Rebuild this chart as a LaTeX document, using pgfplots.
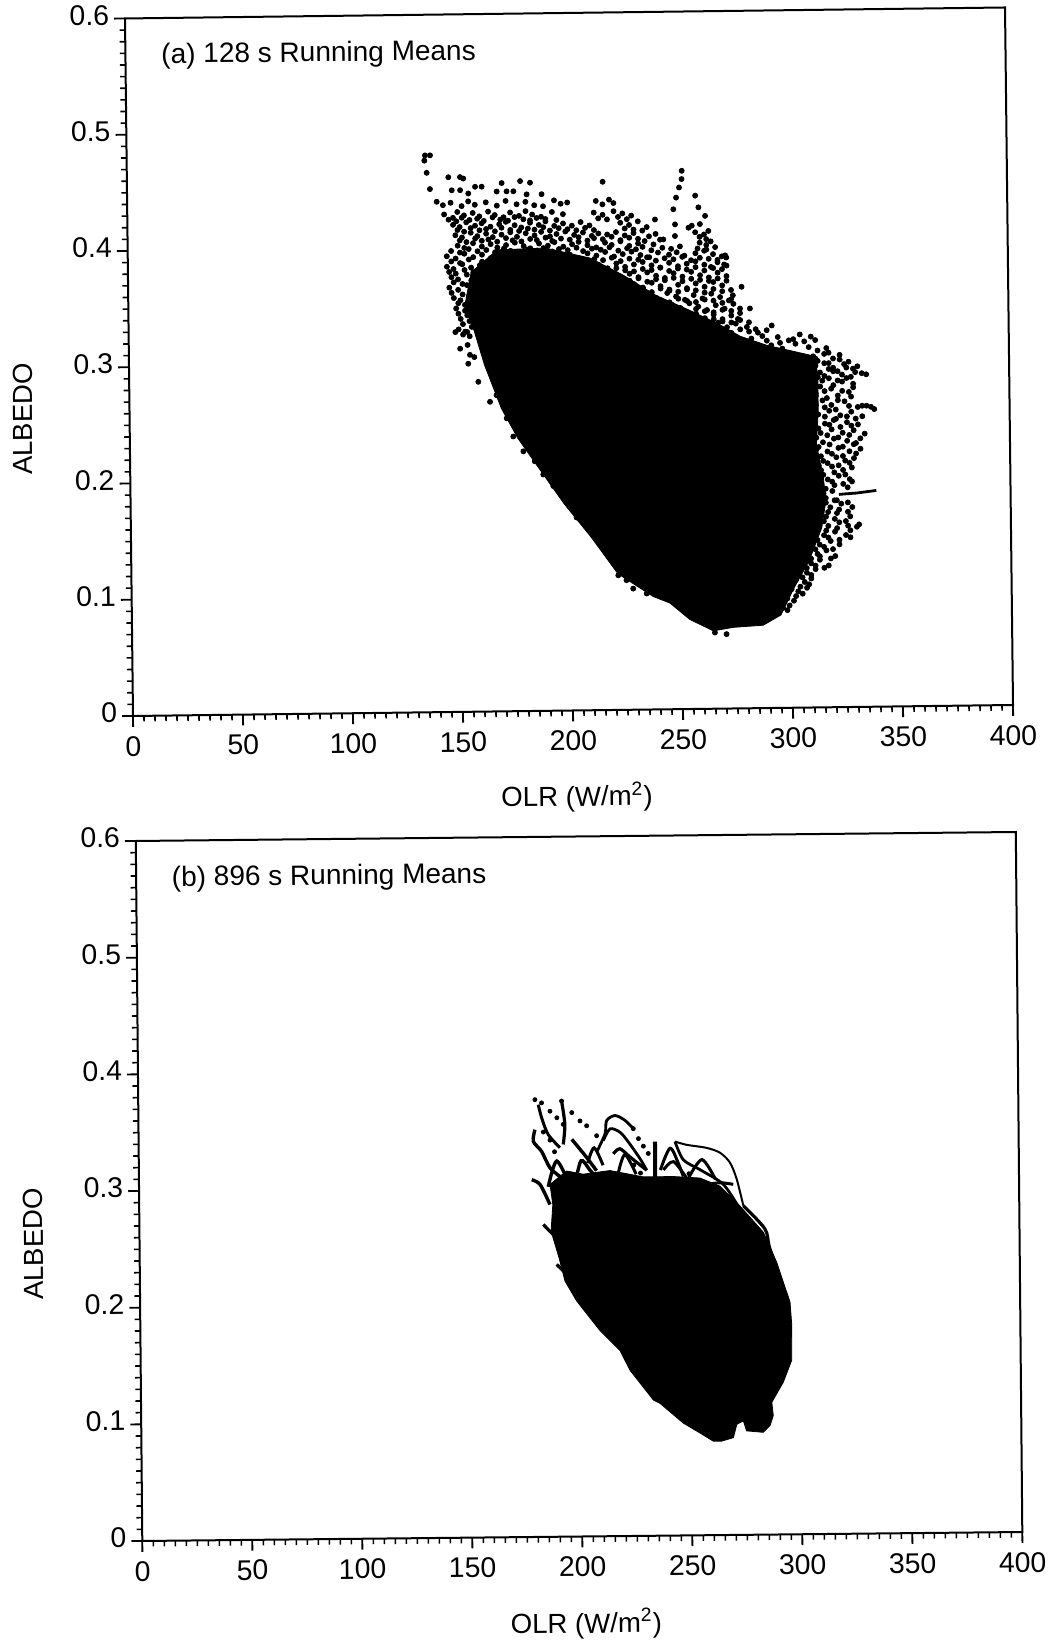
\documentclass[border=0pt]{standalone}
\usepackage{fontspec}
\setmainfont{Liberation Sans}
\usepackage{pgfplots}
\pgfplotsset{compat=1.18}
\pgfplotsset{panel/.style={
  anchor=origin, xmin=0, xmax=400, ymin=0, ymax=0.6,
  axis line style={line width=1pt}, clip=false,
  tick align=outside, xtick pos=lower, ytick pos=lower,
  xtick={0,50,100,150,200,250,300,350,400},
  ytick={0,0.1,0.2,0.3,0.4,0.5,0.6},
  yticklabels={0,0.1,0.2,0.3,0.4,0.5,0.6},
  xticklabels={0,50,100,150,200,250,300,350,400},
  minor x tick num=9, minor y tick num=9,
  major tick length=5.4pt, minor tick length=2.8pt,
  major tick style={line width=0.9pt,black},
  minor tick style={line width=0.8pt,black},
  tick label style={font=\fontsize{14.2}{15}\selectfont,rotate=0.6},
  xticklabel style={yshift=-1.2pt},
  yticklabel style={xshift=1pt,yshift=1.8pt},
  /pgf/number format/assume math mode=true,
  label style={font=\fontsize{13.8}{15}\selectfont},
}}
\begin{document}
\begin{tikzpicture}
\path[use as bounding box] (0,0) rectangle (524.5pt,822pt);
% ---------- panel (a)
\begin{axis}[panel, at={(66.5pt,464pt)},
  x={(1.1pt,0.01375pt)}, y={(-6.667pt,581.25pt)},
  xlabel={OLR (W/m\textsuperscript{2})},
  xlabel style={at={(axis cs:200,0)},anchor=center,xshift=2pt,yshift=-43.3pt,rotate=0.6},
  ylabel={ALBEDO},
  ylabel style={at={(axis cs:0,0.25)},anchor=center,xshift=3.2pt,yshift=53.4pt,rotate=0.6},
]
\addplot[black,fill=black,line width=0.4pt] coordinates {
(153,.35)(156,.378)(168,.397)(190,.398)(210,.389)(225,.374)(240,.356)(255,.343)(268,.331)
(278,.32)(290,.312)(312,.302)(313,.2837)(313,.2549)(312,.2262)(315,.1976)(316,.1775)
(314,.1545)(308,.1258)(301,.1028)(295,.0799)(286.9,.0713)(273.3,.0698)(264.2,.067)(253.6,.077)
(244.6,.0914)(237.1,.0971)(221.1,.1172)(209.2,.1488)(197.2,.1775)(186.7,.2062)(176.3,.2349)(169,.2607)
(161.6,.298)(157.2,.3267)} -- cycle;
\addplot[black,line width=1.4pt] coordinates {(322,.183)(330,.184)(339,.186)};
\addplot[only marks,mark=*,mark size=1.25pt,black] coordinates {
(135.6,.479)(137.9,.479)(135.3,.4745)(136.3,.464)(137.7,.450)
(146.1,.460)(151.4,.460)(152.9,.4587)(147.6,.4487)(151.4,.4487)(155.1,.4458)(158.2,.4515)(161.2,.4515)
(170.3,.4544)(168,.4472)(172.5,.4472)(178.7,.4559)(183.2,.4544)(175.6,.4472)(181.6,.4444)(188.4,.4444)
(216.2,.4544)(252.2,.463)(252.1,.4559)(250.9,.4487)(249.5,.440)(248.2,.430)(248.9,.417)(248.8,.407)(249.5,.393)
(258.2,.4415)(259.6,.4314)(262.6,.424)(256.5,.4157)(260.2,.417)(239.8,.4214)(243.5,.4042)
(278.8,.3626)(278,.3439)(282.5,.3439)(292.3,.329)(272.1,.381)(271.5,.3898)(274.8,.3554)
(140.7,.439)(143.5,.436)(147,.438)(152,.435)(155,.439)(158,.436)(163,.438)(168,.435)(172,.439)(177,.436)(181,.438)(185,.435)(189,.434)
(194,.439)(197,.436)(200,.437)(213,.438)(216,.435)(219,.439)(221,.436)
(144,.428)(148,.425)(150,.430)(153,.427)(157,.429)(160,.426)(164,.430)(167,.427)(171,.425)(174,.429)(178,.426)(181,.430)(184,.427)(188,.425)
(193,.429)(198,.427)(212,.428)(216,.426)(221,.429)(225,.427)(229,.425)
(148,.419)(151,.417)(154,.421)(158,.418)(161,.420)(165,.417)(169,.419)(172,.421)(176,.418)(179,.416)(183,.420)(187,.418)(190,.421)(194,.417)(198,.419)(202,.417)(206,.420)(210,.417)
(224,.419)(228,.417)(232,.420)
(149,.410)(152,.408)(156,.412)(159,.409)(163,.411)(166,.408)(170,.410)(174,.412)(177,.408)(181,.411)(185,.409)(188,.412)(192,.408)(195,.410)(199,.412)(203,.409)(207,.411)(211,.408)(214,.410)(218,.409)
(222,.411)(226,.408)(230,.410)(234,.412)(240,.409)(258,.410)(262,.408)(264,.411)
(150,.401)(153,.399)(157,.403)(161,.400)(165,.402)(168,.399)(172,.401)(176,.403)(180,.400)(183,.398)(187,.402)(191,.400)(194,.403)(198,.399)(202,.401)(205,.403)(209,.400)(213,.398)(217,.402)(220,.400)(224,.403)(228,.399)(232,.401)(235,.403)(239,.400)
(260,.401)(263,.399)(265,.402)
(145,.392)(149,.390)(153,.394)(157,.391)(161,.393)(165,.390)(169,.392)(173,.394)(177,.391)(181,.389)(185,.393)(189,.391)(193,.394)(197,.390)(201,.392)(205,.389)(209,.393)(213,.391)(217,.394)(221,.390)(225,.392)(229,.394)(233,.391)(237,.389)(241,.393)(246,.391)(253,.390)(258,.392)(262,.394)(266,.391)(270,.389)
(145,.383)(148,.381)(152,.385)(156,.382)(160,.384)(190,.381)(195,.383)(200,.380)(205,.384)(210,.381)(214,.383)(218,.380)(222,.384)(226,.381)(230,.383)(234,.385)(238,.382)(242,.380)(246,.384)(250,.381)(254,.383)(258,.385)(262,.382)(265,.380)(268,.384)(271,.382)
(147,.374)(150,.372)(154,.376)(158,.373)(163,.375)(208,.374)(212,.372)(216,.376)(220,.373)(224,.371)(228,.375)(232,.372)(236,.376)(240,.373)(244,.371)(248,.375)(252,.372)(256,.376)(260,.373)(264,.371)(268,.375)(272,.372)
(146,.365)(150,.363)(154,.367)(222,.365)(226,.362)(230,.366)(234,.363)(238,.367)(242,.364)(246,.361)(250,.365)(254,.362)(258,.366)(262,.363)(266,.367)(270,.364)
(148,.356)(151,.354)(155,.358)(228,.356)(232,.353)(236,.357)(240,.354)(245,.358)(249,.355)(253,.352)(257,.356)(261,.353)(265,.357)(269,.354)(273,.351)
(149,.347)(153,.345)(238,.347)(242,.344)(247,.348)(251,.345)(255,.349)(259,.346)(263,.343)(267,.347)(271,.344)(275,.348)
(151,.338)(155,.336)(245,.338)(250,.341)(254,.337)(258,.340)(262,.336)(266,.339)(270,.335)(274,.338)(277,.335)
(150,.329)(153,.327)(156,.331)(258,.332)(263,.329)(268,.332)(272,.328)(276,.331)(281,.328)(285,.326)
(283,.318)(288,.320)(295,.319)(300,.316)(305,.321)(310,.319)
(285,.310)(292,.312)(297,.309)(303,.313)(309,.310)(313,.307)(317,.309)
(311,.302)(316,.304)(320,.300)(323,.303)
(312,.294)(316,.296)(320,.292)(325,.295)(329,.291)(331,.293)
(312,.287)(316,.285)(320,.289)(324,.286)(328,.284)(333,.287)(335,.286)
(311,.279)(315,.281)(320,.277)(324,.280)(329,.278)
(312,.270)(316,.272)(322,.268)(327,.271)
(310,.262)(315,.264)(319,.260)(325,.263)(331,.258)(333,.259)(335,.259)(337,.258)(338.5,.256)
(309,.254)(313,.252)(318,.255)(323,.251)(328,.254)(333,.250)
(311,.246)(316,.244)(320,.247)(326,.245)(331,.243)
(309,.238)(314,.236)(319,.239)(324,.236)(329,.238)(334,.235)
(310,.230)(315,.228)(320,.231)(326,.229)(330,.227)
(312,.222)(317,.220)(322,.223)(327,.220)(332,.222)
(311,.214)(315,.212)(321,.215)(325,.212)(329,.214)
(310,.206)(314,.204)(319,.207)(324,.204)(328,.206)
(312,.198)(317,.196)(322,.199)(327,.196)
(311,.190)(316,.188)(320,.191)(326,.189)
(312,.182)(316,.180)(320,.178)
(313,.174)(318,.172)(323,.175)(328,.172)
(312,.166)(316,.164)(321,.167)(327,.164)
(312,.158)(317,.156)(322,.159)(326,.156)(331,.157)
(311,.150)(315,.148)(320,.151)(325,.148)(330,.155)
(309,.142)(313,.140)(318,.143)(322,.140)
(308,.134)(312,.132)(316,.135)(320,.130)
(305,.126)(309,.124)(313,.127)(317,.122)
(303,.118)(307,.116)(311,.119)
(302,.110)(306,.108)(309,.111)
(300,.102)(303,.100)(307,.103)
(298,.094)(301,.092)(296,.086)(298,.084)
(148.5,.3267)(153.9,.3267)(150.6,.3124)(154.2,.2994)(158.7,.2837)(163.9,.2664)(166.9,.272)(171.4,.252)(174.3,.2363)
(178.8,.2234)(183.9,.2148)(187.7,.2033)(192.2,.1933)(202.6,.166)(208.7,.156)(216.1,.1358)(221.3,.1158)(228,.1042)
(234.1,.0998)(225,.1115)(264.9,.0655)(270.2,.064)
(146,.4235)(149.5,.422)(152,.425)(155.5,.423)(159,.424)(162,.422)(166,.425)(169.5,.423)(173,.422)(176,.425)(180,.423)(183,.422)(186,.424)(190,.423)(195,.422)(214,.423)(218,.422)(223,.424)(227,.422)
(150,.4145)(153,.413)(156,.416)(160,.414)(163,.415)(167,.413)(170,.416)(174,.414)(178,.413)(182,.415)(185,.414)(189,.416)(192,.413)(196,.415)(200,.414)(204,.413)(208,.415)(212,.413)(226,.414)(230,.413)(236,.415)(255,.414)
(151,.4055)(154,.404)(158,.407)(161,.405)(164,.406)(168,.404)(172,.407)(175,.405)(179,.404)(183,.406)(186,.405)(190,.407)(193,.404)(197,.406)(201,.405)(205,.407)(209,.404)(212,.406)(216,.405)(220,.407)(224,.404)(228,.406)(232,.405)(237,.407)(242,.404)(260,.406)(263,.404)
(147,.3965)(151,.395)(155,.398)(159,.396)(163,.397)(167,.395)(171,.398)(174,.396)(178,.395)(182,.397)(186,.396)(189,.398)(193,.395)(196,.397)(200,.396)(204,.398)(207,.395)(211,.397)(215,.396)(219,.398)(223,.395)(227,.397)(231,.396)(234,.398)(238,.395)(243,.397)(247,.396)(251,.398)(259,.396)(263,.395)(267,.397)
(147,.3875)(151,.386)(155,.389)(161,.387)(165,.388)(196,.386)(200,.389)(204,.387)(208,.386)(212,.388)(216,.387)(220,.389)(224,.386)(228,.388)(232,.387)(236,.389)(240,.386)(244,.388)(248,.387)(252,.389)(256,.386)(260,.388)(264,.387)(268,.386)(272,.388)
(146,.3785)(149,.377)(153,.380)(157,.378)(214,.379)(218,.377)(222,.380)(226,.378)(230,.377)(234,.379)(238,.378)(242,.380)(246,.377)(250,.379)(254,.378)(258,.380)(262,.377)(266,.379)(270,.378)
(148,.3695)(152,.368)(156,.371)(228,.369)(232,.371)(236,.368)(240,.370)(244,.369)(248,.371)(252,.368)(256,.370)(260,.369)(264,.368)(268,.370)(272,.368)
(147,.3605)(152,.359)(234,.361)(238,.359)(242,.362)(246,.360)(250,.359)(254,.361)(258,.360)(262,.358)(266,.361)(270,.359)(274,.360)
(150,.3515)(153,.350)(242,.352)(246,.350)(250,.353)(254,.351)(258,.350)(262,.352)(266,.351)(270,.349)(274,.352)
(150,.3425)(154,.341)(250,.343)(254,.341)(258,.344)(262,.342)(266,.341)(270,.343)(274,.342)(278,.340)
(152,.3335)(258,.334)(262,.332)(266,.335)(270,.333)(274,.332)(278,.334)(282,.332)
(152,.3245)(155,.323)(270,.325)(274,.323)(278,.326)(282,.324)(286,.323)(290,.325)
(154,.3155)(290,.316)(296,.314)(302,.317)(307,.315)(312,.316)(155,.307)(157,.305)(312,.300)(318,.305)
(313,.298)(318,.296)(323,.299)(327,.297)
(310,.290)(314,.288)(318,.291)(322,.289)(326,.292)(330,.288)
(309,.282)(313,.284)(318,.283)(322,.281)(326,.283)
(309,.274)(314,.276)(319,.274)(324,.272)(329,.275)
(308,.266)(312,.268)(317,.266)(322,.264)(328,.267)
(308,.258)(312,.260)(316,.258)(321,.256)(327,.259)
(308,.250)(311,.248)(316,.250)(321,.248)(326,.250)(330,.248)
(308,.242)(313,.240)(318,.243)(323,.241)(328,.242)
(308,.234)(312,.232)(317,.234)(322,.232)(327,.234)(332,.231)
(308,.226)(313,.224)(318,.226)(324,.224)(329,.226)
(309,.218)(314,.216)(319,.218)(324,.216)(330,.218)
(309,.210)(313,.208)(317,.210)(322,.208)(327,.210)
(310,.202)(315,.200)(320,.202)(325,.200)
(310,.194)(314,.192)(319,.194)(324,.192)(328,.194)
(311,.186)(315,.184)(319,.186)
(312,.178)(316,.176)(321,.178)(326,.176)
(312,.170)(317,.168)(322,.170)(326,.168)
(311,.162)(315,.160)(320,.162)(325,.160)
(311,.154)(316,.152)(321,.154)(327,.152)
(308,.146)(312,.144)(317,.146)(322,.144)(327,.146)
(307,.138)(311,.136)(315,.138)(319,.136)
(305,.130)(309,.128)(313,.130)(318,.128)
(303,.122)(307,.120)(311,.122)(315,.120)
(301,.114)(305,.112)(309,.114)
(300,.106)(304,.104)(308,.106)
(298,.098)(302,.096)(305,.098)
(296,.090)(299,.088)
};
\node[font=\fontsize{14}{15}\selectfont,rotate=0.6] at (axis cs:87.8,0.567) {(a) 128 s Running Means};
\end{axis}
% ---------- panel (b)
\begin{axis}[panel, at={(71.15pt,51.5pt)},
  x={(1.1pt,0.01125pt)}, y={(-5.417pt,583.33pt)},
  xlabel={OLR (W/m\textsuperscript{2})},
  xlabel style={at={(axis cs:200,0)},anchor=center,xshift=2pt,yshift=-43.7pt,rotate=0.6},
  ylabel={ALBEDO},
  ylabel style={at={(axis cs:0,0.25)},anchor=center,xshift=2.7pt,yshift=53pt,rotate=0.6},
]
\addplot[black,fill=black,line width=0.4pt] coordinates {
(186.8,.302)(194.4,.3134)(201.9,.3105)(214.1,.3134)(229.2,.3077)(242.9,.3077)(255,.3062)(264,.2991)(273,.282)
(283.6,.2591)(289.5,.2334)(295.4,.1991)(296.1,.1791)(295.9,.1491)(292,.1305)(286.7,.1134)(287.3,.102)
(285.8,.0934)(282.7,.0877)(275.1,.0891)(273.7,.0977)(270.7,.0948)(269.1,.0834)(263.7,.0805)(260,.0805)
(253.9,.0877)(246.4,.0963)(235.9,.1134)(232.9,.1163)(222.4,.142)(217.9,.1591)(208.9,.1763)(198.4,.202)
(193.2,.2191)(190.6,.2391)(187.1,.262)(188,.2848)} -- cycle;
\addplot[black,smooth,line width=1.4pt] coordinates {(208.1,.3291)(212,.3448)(212.8,.3562)(216.7,.3605)(221.2,.3562)(224.9,.3491)};
\addplot[black,smooth,line width=1.4pt] coordinates {(211.2,.3391)(214.3,.3491)(218.8,.3462)(222.6,.3377)(227.8,.3234)(230.8,.3134)};
\addplot[black,smooth,line width=1pt] coordinates {(243.8,.3377)(249,.3348)(258.1,.332)(264.2,.3277)(268.7,.3191)(271.7,.3048)(274.6,.282)};
\addplot[black,smooth,line width=1.4pt] coordinates {(243.8,.3377)(247.5,.322)(255,.3134)(265.6,.3005)(273,.2791)};
\addplot[black,smooth,line width=1.5pt] coordinates {(181.8,.3705)(183.3,.3591)(186.2,.3448)(191.5,.3334)};
\addplot[black,smooth,line width=1.7pt] coordinates {(180.2,.3491)(179.4,.3391)(183.1,.3305)(186.9,.3162)(192.1,.3077)};
\addplot[black,smooth,line width=1.7pt] coordinates {(178.5,.3062)(182.3,.302)(186.7,.2848)};
\addplot[black,smooth,line width=1.6pt] coordinates {(192.4,.3734)(193.8,.3534)(193,.3362)};
\addplot[black,smooth,line width=1.7pt] coordinates {(196.9,.3405)(203.6,.3248)(208,.3134)};
\addplot[black,smooth,line width=1.6pt] coordinates {(215.7,.3277)(218.7,.332)(223.3,.3248)(230.8,.3134)};
\addplot[black,line width=2pt] coordinates {(234.7,.3377)(234.6,.3)};
\addplot[black,smooth,line width=1.5pt] coordinates {(237,.3134)(241.5,.332)(245.2,.3191)(247.4,.3077)};
\addplot[black,smooth,line width=1.5pt] coordinates {(238.4,.3134)(243,.3205)(248.9,.3062)};
\addplot[black,smooth,line width=1.5pt] coordinates {(257.9,.3005)(264.1,.302)(270.1,.3005)};
\addplot[black,line width=1.6pt] coordinates {(183.6,.2677)(188,.2591)};
\addplot[black,line width=1.6pt] coordinates {(189.5,.2334)(197,.2191)};
\addplot[black,smooth,line width=1.6pt] coordinates {(274.6,.282)(284.3,.262)(286.5,.2448)(293.9,.202)};
\addplot[black,smooth,line width=1.7pt] coordinates {(198,.3)(201,.322)(205,.314)(209,.305)};
\addplot[black,smooth,line width=1.7pt] coordinates {(186,.3)(190,.322)(196,.3)};
\addplot[black,smooth,line width=1.5pt] coordinates {(204,.32)(207,.333)(211,.318)};
\addplot[black,smooth,line width=1.5pt] coordinates {(218,.312)(221,.327)(226,.31)};
\addplot[black,smooth,line width=1.5pt] coordinates {(250,.307)(256,.322)(262,.305)};
\addplot[only marks,mark=*,mark size=1.0pt,black] coordinates {
(192.4,.3734)(197,.3634)(200.7,.3562)(203.7,.352)(208.2,.3434)
(180.3,.3748)(183.3,.372)(187.1,.3648)(190.2,.3591)(193.1,.3534)
(224.9,.3491)(227.2,.3405)(229.4,.334)(231.6,.3277)
(184,.347)(187,.34)(189,.33)(225,.318)(228,.311)(250,.31)(253,.304)(280,.262)
};
\node[font=\fontsize{14}{15}\selectfont,rotate=0.6] at (axis cs:87.7,0.567) {(b) 896 s Running Means};
\end{axis}
\end{tikzpicture}
\end{document}
